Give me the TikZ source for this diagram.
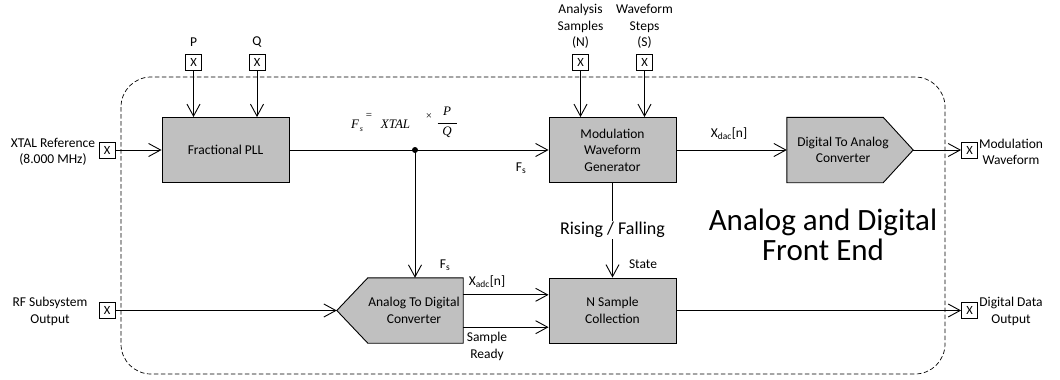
\documentclass[tikz,border=0pt]{standalone}
\usepackage{fontspec}
\setmainfont{Carlito}
\newfontfamily\timesf{Liberation Serif}
\usetikzlibrary{arrows.meta,calc}
\definecolor{blkgray}{HTML}{C0C0C0}
\begin{document}
\begin{tikzpicture}[x=1pt,y=-1pt,font=\fontsize{13.5}{16.5}\selectfont,
  blk/.style={draw, fill=blkgray, minimum width=127pt, minimum height=65pt, align=center, line width=0.9pt, inner sep=0pt},
  ghost/.style={draw=none, minimum width=126pt, minimum height=65pt, inner sep=0pt},
  port/.style={draw, fill=white, minimum size=16pt, inner sep=0pt, line width=0.8pt, font=\fontsize{12.5}{12.5}\selectfont},
  lbl/.style={align=center, inner sep=0pt},
  conn/.style={line width=0.9pt, -{Straight Barb[length=12pt,width=13pt]}},
  shapeline/.style={draw, fill=blkgray, line width=0.9pt},
  frm/.style={inner sep=0pt, font=\timesf\itshape\fontsize{13}{13}\selectfont},
  frmsmall/.style={inner sep=0pt, font=\timesf\fontsize{11}{11}\selectfont}]
\useasboundingbox (0,0) rectangle (1060,380);

% enclosing dashed region
\draw[dash pattern=on 4.5pt off 2.5pt, line width=0.7pt, rounded corners=30pt] (121,77) rectangle (945,374);

% ports
\node[port] (pin) at (193.5,62) {X};
\node[port] (qin) at (257,62) {X};
\node[port] (nin) at (580.5,62) {X};
\node[port] (sin) at (644.5,62) {X};
\node[port] (xin) at (107,150) {X};
\node[port] (rfin) at (107,310.5) {X};
\node[port] (mout) at (969.5,150) {X};
\node[port] (dout) at (969.5,310.5) {X};

% port labels
\node[lbl] (plbl) at (193.5,42) {P};
\node[lbl] (qlbl) at (257,42) {Q};
\node[lbl] (nlbl) at (580.5,26.5) {Analysis\\Samples\\(N)};
\node[lbl] (slbl) at (644.5,26.5) {Waveform\\Steps\\(S)};
\node[lbl] (xlbl) at (53,152) {XTAL Reference\\(8.000 MHz)};
\node[lbl] (rflbl) at (50,311.5) {RF Subsystem\\Output};
\node[lbl] (mlbl) at (1011,152) {Modulation\\Waveform};
\node[lbl] (dlbl) at (1011,311.5) {Digital Data\\Output};

% blocks
\node[blk] (pll) at (225.5,150) {Fractional PLL};
\node[blk] (mwg) at (612.5,150) {Modulation\\Waveform\\Generator};
\node[blk] (nsc) at (612.5,310.5) {N Sample\\Collection};

\node[ghost] (dac) at (850,150) {};
\draw[shapeline] (dac.north west) -- ($(dac.north east)+(-30,0)$) -- (dac.east) -- ($(dac.south east)+(-30,0)$) -- (dac.south west) -- cycle;
\node[lbl] (dactext) at (843,150) {Digital To Analog\\Converter};

\node[ghost] (adc) at (400,310.5) {};
\draw[shapeline] (adc.west) -- ($(adc.north west)+(31,0)$) -- (adc.north east) -- (adc.south east) -- ($(adc.south west)+(31,0)$) -- cycle;
\node[lbl] (adctext) at (414,310.5) {Analog To Digital\\Converter};

% connectors
\draw[conn] (xin.east) -- (pll.west);
\draw[conn] (pin.south) -- (pin.south |- pll.north);
\draw[conn] (qin.south) -- (qin.south |- pll.north);
\draw[conn] (nin.south) -- (nin.south |- mwg.north);
\draw[conn] (sin.south) -- (sin.south |- mwg.north);
\coordinate (split) at (415,150);
\draw[conn] (pll.east) -- (mwg.west);
\fill (split) circle (3pt);
\draw[conn] (split) -- (split |- adc.north);
\draw[conn] (mwg.east) -- (dac.west);
\draw[conn] (dac.east) -- (mout.west);
\draw[conn] (rfin.east) -- (adc.west);
\coordinate (a1) at ($(adc.north east)+(0,17)$);
\coordinate (a2) at ($(adc.south east)+(0,-16)$);
\draw[conn] (a1) -- (a1 -| nsc.west);
\draw[conn] (a2) -- (a2 -| nsc.west);
\draw[conn] (mwg.south) -- (nsc.north) node[midway, fill=white, inner sep=1pt, font=\fontsize{18}{20}\selectfont] (risefall) {Rising / Falling};
\draw[conn] (nsc.east) -- (dout.west);

% signal labels
\node[lbl] (fs1) at (521,168) {F\textsubscript{s}};
\node[lbl] (fs2) at (445,265) {F\textsubscript{s}};
\node[lbl] (xdac) at (729,134) {X\textsubscript{dac}[n]};
\node[lbl] (xadc) at (487,282) {X\textsubscript{adc}[n]};
\node[lbl] (sready) at (487,346.5) {Sample\\Ready};
\node[lbl] (state) at (643,264) {State};

% formula
\node[frm] (fF) at (355,124.5) {F};
\node[frm, font=\timesf\itshape\fontsize{8}{8}\selectfont] (fsub) at (361.5,129.5) {s};
\node[frmsmall] (feq) at (369,115.5) {=};
\node[frm] (fxtal) at (395.5,124.5) {XTAL};
\node[frmsmall] (ftimes) at (429,116.5) {×};
\node[frm] (fP) at (447,111) {P};
\node[frm] (fQ) at (447,132.5) {Q};
\draw[line width=0.7pt] (437.5,123.3) -- (457,123.3);

% title
\node[lbl, font=\fontsize{31}{30}\selectfont] (title) at (823,235) {Analog and Digital\\Front End};
\end{tikzpicture}
\end{document}
